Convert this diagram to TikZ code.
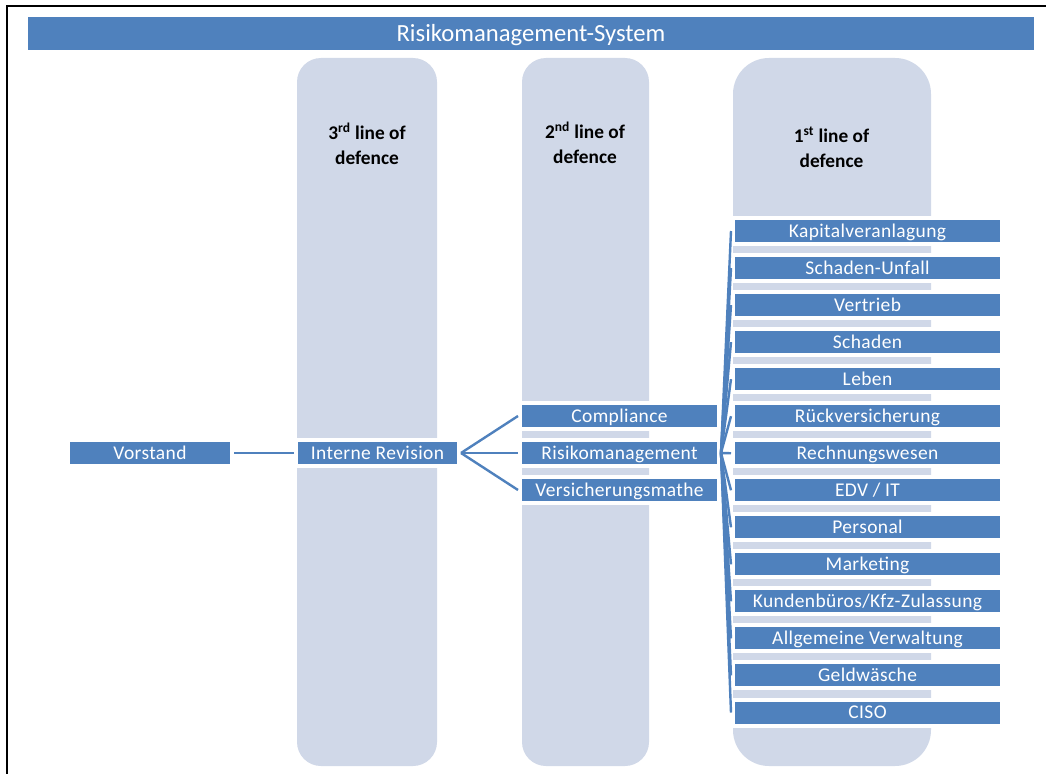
\documentclass[tikz,border=0pt]{standalone}
\usepackage{fontspec}
\setmainfont{Carlito}
\definecolor{boxblue}{HTML}{4F81BD}
\definecolor{lanecol}{HTML}{D0D8E8}
\def\px{0.75pt}
\begin{document}
\begin{tikzpicture}[x=0.75pt,y=-0.75pt,
  box/.style={fill=boxblue, draw=white, line width=3pt, text=white, inner sep=0pt,
    font=\fontsize{14.6}{16}\selectfont\addfontfeatures{LetterSpace=2}, text height=9.4pt, text depth=0pt, minimum height=26*\px},
  titlebar/.style={fill=boxblue, text=white, inner sep=0pt, font=\fontsize{18.5}{20}\selectfont,
    minimum width=1006*\px, minimum height=33*\px, text height=11.9pt, text depth=0pt},
  conn/.style={draw=boxblue, line width=1.8pt},
  lanebg/.style={fill=lanecol},
  hdr/.style={font=\fontsize{14.5}{18.75}\selectfont\bfseries, align=center, inner sep=0pt}]
\useasboundingbox (0,0) rectangle (1046,774);
\fill[white] (0,0) rectangle (1046,774);
\draw[black, line width=1.5pt] (6.5,774) -- (6.5,6.5) -- (1046,6.5);
% title
\node[titlebar] (title) at (531,33.5) {Risikomanagement-System};
% lanes
\fill[lanebg, rounded corners=24*\px] (297,58) rectangle (437,766);
\fill[lanebg, rounded corners=24*\px] (522,58) rectangle (649,766);
\fill[lanebg, rounded corners=36*\px] (733,58) rectangle (931,766);
% headers
\node[hdr] (h3) at (367,143.5) {3\textsuperscript{rd} line of\\defence};
\node[hdr] (h2) at (585,142.5) {2\textsuperscript{nd} line of\\defence};
\node[hdr] (h1) at (831.5,147.5) {1\textsuperscript{st} line of\\defence};
% left boxes
\node[box, minimum width=164*\px] (vorstand) at (150,453) {Vorstand};
\node[box, minimum width=163*\px] (irev) at (377.5,453) {Interne Revision};
% 2nd line boxes
\node[box, minimum width=199*\px] (comp) at (619.5,416) {Compliance};
\node[box, minimum width=199*\px] (risk) at (619.5,453) {Risikomanagement};
\node[box, minimum width=199*\px] (vmath) at (619.5,490) {Versicherungsmathe};
% 1st line boxes
\foreach \t [count=\i from 0] in {Kapitalveranlagung,Schaden-Unfall,Vertrieb,Schaden,Leben,R\"uckversicherung,Rechnungswesen,EDV / IT,Personal,Marketing,Kundenb\"uros/Kfz-Zulassung,Allgemeine Verwaltung,Geldw\"asche,CISO}{
  \node[box, minimum width=269*\px] (b\i) at (867.5,231+37.04*\i) {\t};
}
% connectors
\draw[conn] (vorstand) -- (irev);
\draw[conn] (irev.east) -- (comp.west);
\draw[conn] (irev.east) -- (risk.west);
\draw[conn] (irev.east) -- (vmath.west);
\foreach \i in {0,...,13}{
  \draw[conn] (risk.east) -- (b\i.west);
}
\end{tikzpicture}
\end{document}
